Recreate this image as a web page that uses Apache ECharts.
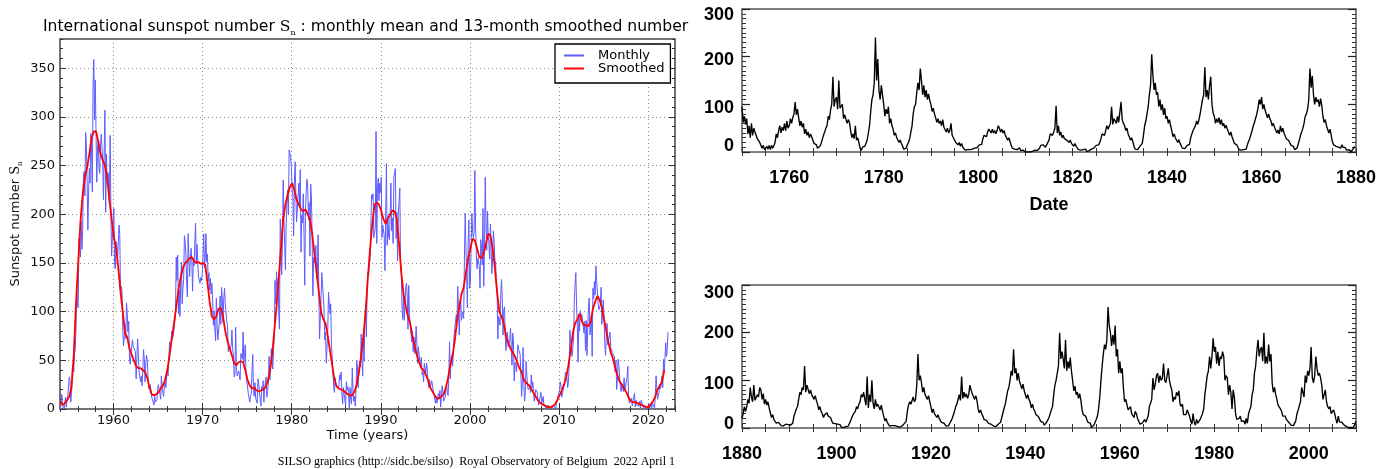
<!DOCTYPE html>
<html>
<head>
<meta charset="utf-8">
<title>International sunspot number</title>
<script src="https://cdn.jsdelivr.net/npm/echarts@6/dist/echarts.min.js"></script>
<style>
  html, body { margin: 0; padding: 0; background: #fff; }
  #chart { width: 1378px; height: 469px; }
</style>
</head>
<body>
<div id="chart"></div>
<script>
// Monthly mean total sunspot number, January 1954 to March 2022 (one row per year)
const monthlyStart = 1954;
const monthlyValues = [
  0,1,15,3,1,0,7,12,2,10,13,11,
  33,29,7,16,41,45,38,57,60,82,126,108,
  104,175,167,156,193,164,182,239,244,219,284,271,
  233,184,222,247,232,283,264,223,332,359,297,338,
  284,233,269,276,247,242,270,282,284,256,215,265,
  307,202,262,230,243,238,211,281,205,157,175,176,
  206,149,144,172,169,155,172,189,179,117,126,121,
  82,65,75,87,72,109,99,79,90,53,46,56,
  55,71,64,65,62,59,31,31,72,56,38,33,
  28,34,24,41,61,51,28,47,55,50,33,21,
  22,25,23,12,13,13,4,13,7,9,10,21,
  25,20,16,10,34,22,17,13,24,28,22,24,
  40,34,36,69,64,67,80,72,71,81,81,99,
  156,132,158,98,122,95,129,151,108,124,133,178,
  172,158,130,115,180,156,136,154,165,152,121,155,
  147,170,191,151,169,149,136,138,129,135,132,138,
  157,180,145,154,180,151,159,131,140,122,134,118,
  129,111,86,101,81,70,114,87,71,73,89,116,
  87,125,113,89,114,124,108,108,90,86,59,64,
  61,60,65,81,60,56,33,36,84,43,34,33,
  39,37,30,57,56,51,79,47,57,66,35,29,
  27,16,16,7,13,16,40,56,20,13,27,11,
  11,6,31,27,17,17,3,23,19,29,7,22,
  23,33,12,18,26,54,30,42,62,62,41,61,
  73,132,108,141,117,134,99,82,195,176,138,173,
  235,194,195,143,190,211,225,200,266,263,258,249,
  225,219,178,231,254,222,192,191,219,232,209,246,
  161,199,191,221,180,127,203,224,236,229,194,212,
  157,231,217,172,116,156,150,152,168,134,138,179,
  119,72,94,114,140,128,116,101,71,79,47,47,
  80,120,118,98,108,65,53,36,22,17,32,26,
  23,22,24,23,35,30,38,16,5,22,20,21,
  3,28,19,23,17,1,22,9,5,42,19,8,
  13,3,19,50,42,22,42,49,43,77,50,34,
  73,49,94,108,74,125,140,137,148,154,154,220,
  216,221,176,175,186,285,170,226,237,214,232,222,
  238,176,189,189,178,142,201,252,168,196,177,174,
  200,232,183,196,170,238,243,247,175,202,152,202,
  212,227,150,141,104,92,121,91,90,125,129,116,
  82,127,97,86,85,69,80,59,74,57,67,85,
  87,47,64,56,55,43,53,35,38,28,47,47,
  37,47,40,28,22,30,22,23,29,27,19,15,
  16,6,12,6,7,16,11,19,2,1,24,18,
  8,10,12,21,25,17,14,33,69,31,52,55,
  44,55,75,73,77,97,91,126,127,76,101,112,
  91,97,100,93,155,201,166,137,104,170,194,124,
  131,164,201,182,176,181,245,189,159,144,155,151,
  147,124,174,165,148,206,126,163,238,193,163,203,
  179,169,154,190,190,139,156,183,172,153,150,127,
  124,72,95,94,86,121,133,113,76,102,105,73,
  60,75,79,64,67,70,83,66,45,78,70,29,
  48,45,38,38,66,61,61,56,34,13,28,63,
  25,8,17,49,36,23,20,21,23,17,35,22,
  28,18,8,6,20,20,17,10,4,2,3,17,
  5,3,13,4,5,5,1,0,2,4,6,1,
  2,2,1,1,4,4,5,0,6,7,6,16,
  20,28,23,12,13,20,24,29,38,35,32,22,
  28,43,81,79,60,54,64,73,113,128,140,106,
  85,48,94,80,101,94,97,92,90,78,90,60,
  91,55,84,105,114,76,83,96,54,124,113,131,
  117,147,132,121,108,102,104,107,125,87,100,112,
  93,67,55,75,88,66,66,65,79,63,62,58,
  57,57,54,38,50,20,32,51,44,33,22,18,
  26,27,18,32,19,19,18,33,44,13,6,8,
  7,11,3,9,13,16,2,9,4,5,6,3,
  8,1,9,9,10,1,1,1,1,0,1,2,
  6,0,2,5,0,6,6,8,1,14,34,22,
  10,8,17,25,21,25,34,22,51,37,35,68,
  54,60,79
];

// 13-month smoothed number, sampled every three months from January 1954 (one row per year)
const smoothedValues = [
  8,4,6,9,  13,22,55,108,  150,192,220,238,  248,262,278,285,
  285,275,262,256,  250,238,215,195,  177,165,145,120,  100,78,74,62,
  56,50,44,42,  42,40,38,32,  22,15,14,15,  17,21,24,30,
  40,55,72,88,  105,122,135,145,  150,152,155,156,  152,150,151,149,
  150,148,130,110,  95,92,95,103,  104,95,80,70,  62,55,47,45,
  48,49,48,40,  30,24,21,22,  19,18,19,20,  22,28,38,55,
  80,105,135,165,  195,210,220,228,  232,225,215,210,  205,203,205,200,
  195,180,160,140,  120,100,92,88,  75,60,45,30,  23,21,20,19,
  17,15,14,14,  18,25,38,55,  75,100,135,165,  190,210,212,210,
  203,195,190,196,  200,204,203,195,  170,140,118,105,  95,88,75,65,
  55,48,42,40,  35,30,22,18,  14,11,11,13,  15,22,32,45,
  55,70,90,105,  118,125,140,155,  165,175,173,165,  156,155,160,170,
  180,178,165,145,  120,100,95,88,  75,68,62,58,  54,48,42,38,
  30,27,25,22,  18,14,10,7,  5,4,3,2,  2,3,5,9,
  14,19,25,32,  45,60,78,88,  92,98,90,86,  86,85,90,103,
  110,116,112,105,  92,80,68,58,  52,42,35,28,  25,21,17,12,
  8,7,7,6,  5,4,3,2,  2,5,8,13,  20,24,28,40
];

// Historic record 1750-1879, four samples per year
const earlyStart = 1750;
const earlyValues = [
  95,62,75,58, 70,38,55,30, 60,35,50,42, 40,28,32,20, 18,8,14,5,
  2,12,6,14, 5,14,8,13, 20,38,30,45, 55,40,52,45, 60,45,65,50,
  55,70,60,72, 80,105,78,90, 72,55,65,52, 60,38,48,35, 42,30,38,32,
  28,18,22,15, 8,5,12,18, 22,35,42,50, 55,75,68,88, 100,158,95,110,
  115,90,150,92, 95,100,70,78, 75,60,68,62, 45,30,38,28, 55,25,30,20,
  8,3,10,6, 12,18,25,22, 55,85,110,120, 145,240,150,195, 130,110,140,120,
  100,75,90,80, 95,60,70,55, 48,35,40,30, 28,20,25,18, 12,6,10,8,
  15,20,28,32, 55,80,95,100, 125,145,130,175, 150,120,140,115, 130,110,122,108,
  100,85,92,80, 72,62,70,60, 65,55,68,52, 52,42,50,40, 45,60,35,30,
  28,20,22,15, 20,12,18,10, 8,4,7,5, 2,5,3,6, 4,8,6,9,
  10,15,18,16, 28,35,38,32, 42,48,45,40, 48,40,45,38, 45,55,50,42,
  48,40,45,35, 32,25,30,22, 14,8,12,6, 10,5,8,9, 3,1,4,2,
  0,0,0,0, 0,2,1,3, 4,7,3,6, 8,14,12,15, 18,10,15,12,
  25,38,40,35, 42,50,97,40, 55,35,42,30, 35,28,32,25, 28,20,25,18,
  20,12,18,12, 8,5,9,4, 3,5,2,6, 1,0,3,2, 6,10,8,9,
  14,18,15,20, 28,38,40,35, 45,55,48,52, 60,95,58,70, 72,60,75,62,
  65,105,68,60, 55,45,50,38, 32,25,30,22, 12,6,8,5, 8,12,15,18,
  35,55,65,80, 95,120,140,205, 160,130,145,120, 125,95,110,88, 100,78,92,70,
  75,60,68,55, 45,32,38,30, 28,20,26,18, 14,8,12,7, 10,14,18,16,
  30,38,45,48, 55,65,58,68, 80,95,110,120, 178,115,130,110, 140,158,100,82,
  75,60,70,62, 72,58,68,55, 60,50,56,48, 45,35,42,32, 25,18,22,15,
  10,5,8,4, 2,5,3,6, 15,22,28,30, 45,55,62,58, 80,92,110,100,
  115,90,100,88, 85,72,80,70, 65,55,60,52, 50,40,46,38, 55,42,50,40,
  36,28,32,24, 20,14,18,12, 5,3,8,10, 25,35,42,50, 60,75,80,90,
  110,175,135,160, 120,100,115,105, 110,95,112,98, 75,62,68,55, 52,40,48,35,
  22,15,18,12, 14,10,12,8, 15,10,14,9, 4,2,5,1, 1,5,8,12
];

// Historic record 1880-2010, four samples per year
const lateStart = 1880;
const lateValues = [
  20,30,45,35, 45,60,52,85, 65,55,90,58, 58,70,65,85, 80,60,72,50,
  60,48,55,42, 32,22,28,18, 15,10,14,12, 8,5,9,4, 3,8,5,7,
  4,6,9,10, 25,32,40,45, 60,75,70,85, 80,130,75,90, 90,72,80,70,
  70,60,68,58, 50,38,45,35, 30,22,28,24, 32,25,28,22, 15,10,12,9,
  12,8,10,7, 2,4,1,3, 3,6,4,8, 15,22,28,32, 35,45,40,50,
  55,70,65,75, 60,48,108,42, 70,55,100,52, 40,60,45,50, 50,38,48,35,
  25,15,20,12, 8,4,6,5, 2,5,3,4, 1,2,0,3, 5,8,12,14,
  35,48,55,50, 50,65,55,60, 90,155,100,110, 95,75,85,70, 72,60,68,55,
  45,32,40,30, 30,22,28,20, 18,12,15,10, 8,4,6,5, 10,15,20,22,
  35,45,50,60, 70,58,108,62, 75,65,72,62, 70,90,80,72, 72,60,68,58,
  40,32,38,30, 25,18,22,16, 14,9,12,8, 8,4,6,3, 5,8,10,12,
  22,32,42,50, 65,78,85,100, 120,110,165,115, 125,100,115,98, 100,82,92,78,
  75,62,70,60, 55,42,50,40, 35,28,32,24, 20,14,18,12, 6,8,12,14,
  22,30,38,45, 70,90,100,115, 130,200,145,160, 145,125,185,120, 140,125,148,120,
  100,78,88,70, 75,62,72,58, 38,28,32,25, 18,12,15,10, 1,4,6,5,
  18,25,40,65, 100,130,155,175, 165,185,254,215, 200,172,195,175, 215,150,165,115,
  140,115,125,85, 55,60,58,38, 40,45,30,28, 22,35,30,20, 14,8,6,10,
  14,18,12,16, 25,45,52,60, 105,80,92,110, 115,95,110,100, 105,135,100,95,
  110,125,100,88, 80,55,65,60, 75,68,78,50, 45,50,28,30, 28,38,42,25,
  15,8,30,12, 6,18,10,14, 18,22,30,40, 70,90,110,120, 150,125,150,188,
  160,170,135,160, 130,150,145,160, 150,100,110,105, 70,90,75,40, 80,65,30,18,
  16,20,25,14, 12,15,8,20, 10,30,38,45, 70,80,115,130, 160,185,150,165,
  170,140,200,135, 150,135,175,140, 155,95,75,85, 70,60,48,52, 40,35,25,28,
  25,18,16,12, 8,6,10,5, 8,15,30,38, 40,55,85,75, 65,110,95,120,
  110,125,170,105, 95,110,150,125, 110,115,105,90, 60,60,80,55, 45,40,45,30,
  30,38,30,18, 10,25,13,15, 12,8,6,3, 3,3,1,3, 1,2,2,8,
  14
];

// Tick labels
const leftYearTicks = [1960, 1970, 1980, 1990, 2000, 2010, 2020];
const leftValueTicks = [0, 50, 100, 150, 200, 250, 300, 350];
const topYearTicks = [1760, 1780, 1800, 1820, 1840, 1860, 1880];
const bottomYearTicks = [1880, 1900, 1920, 1940, 1960, 1980, 2000];
const recordValueTicks = [0, 100, 200, 300];

// ---- series tables built from the arrays above ----
const monthlyData = monthlyValues.map((v, i) => [monthlyStart + (i + 0.5) / 12, v]);
const smoothedData = smoothedValues.map((v, i) => [monthlyStart + (3 * i + 0.5) / 12, v]);
const earlyData = earlyValues.map((v, i) => [earlyStart + i / 4, v]);
const lateData = lateValues.map((v, i) => [lateStart + i / 4, v]);

// ---- styles ----
const plain = v => String(v);
const plotFont = { fontFamily: "'DejaVu Sans', sans-serif", fontSize: 13, fontWeight: 'normal', color: '#111' };
const recordFont = {
  fontFamily: "'Liberation Sans Narrow', 'Liberation Sans', Arial, sans-serif",
  fontWeight: 'bold', fontSize: 18, color: '#000'
};
const tickColor = '#333';
const gridDots = { show: true, lineStyle: { color: '#858585', width: 1, type: [1, 3] } };
const subRich = {
  a: { fontFamily: "'DejaVu Sans', sans-serif", fontSize: 15.6, fontWeight: 'normal', color: '#000', lineHeight: 20 },
  s: { fontFamily: "'DejaVu Serif', serif", fontSize: 15.6, fontWeight: 'normal', color: '#000', lineHeight: 20 },
  n: { fontFamily: "'DejaVu Serif', serif", fontSize: 8, fontWeight: 'normal', color: '#000', lineHeight: 8, verticalAlign: 'bottom' }
};
const nameRich = {
  a: { fontFamily: "'DejaVu Sans', sans-serif", fontSize: 13, fontWeight: 'normal', color: '#111', lineHeight: 17 },
  s: { fontFamily: "'DejaVu Serif', serif", fontSize: 13, fontWeight: 'normal', color: '#111', lineHeight: 17 },
  n: { fontFamily: "'DejaVu Serif', serif", fontSize: 7, fontWeight: 'normal', color: '#111', lineHeight: 7, verticalAlign: 'bottom' }
};

function tickOnlyAxis(gridIndex, position, min, max, interval, length) {
  return {
    type: 'value', gridIndex, position, min, max, interval,
    axisLine: { show: false },
    axisTick: { show: true, inside: true, length, lineStyle: { color: tickColor, width: 1 } },
    axisLabel: { show: false },
    splitLine: { show: false },
    minorSplitLine: { show: false }
  };
}

// value labels of the record panels sit slightly off their ticks
function recordLabels(shift) {
  const rich = {};
  recordValueTicks.forEach(v => {
    const d = shift[v] || 0;
    rich['v' + v] = Object.assign({}, recordFont, {
      padding: d >= 0 ? [2 * d, 0, 0, 0] : [0, 0, -2 * d, 0]
    });
  });
  return Object.assign({}, recordFont, {
    show: true, margin: 8, customValues: recordValueTicks,
    formatter: v => '{v' + v + '|' + v + '}', rich
  });
}

function recordYAxis(gridIndex, position, labels) {
  return {
    type: 'value', gridIndex, position, min: 0, max: 300, interval: 100,
    axisLine: { show: false },
    axisTick: { show: true, inside: true, length: 8, lineStyle: { color: '#222', width: 1.2 } },
    minorTick: { show: true, splitNumber: 10, length: 4, lineStyle: { color: '#333', width: 1 } },
    axisLabel: labels ? labels : { show: false },
    splitLine: { show: false }
  };
}

function recordXAxis(gridIndex, position, min, max, ticks, name) {
  const axis = tickOnlyAxis(gridIndex, position, min, max, 5, 4);
  if (ticks) {
    axis.axisLabel = Object.assign({}, recordFont, { show: true, margin: 17, customValues: ticks, formatter: plain });
  }
  if (name) {
    axis.name = name;
    axis.nameLocation = 'middle';
    axis.nameGap = 44;
    axis.nameMoveOverlap = false;
    axis.nameTextStyle = Object.assign({}, recordFont, { fontSize: 18 });
  }
  return axis;
}

const option = {
  animation: false,
  backgroundColor: '#fff',
  title: [
    {
      text: '{a|International sunspot number }{s|S}{n|n}{a| : monthly mean and 13-month smoothed number}',
      left: 43, top: 17, padding: 0,
      textStyle: { fontWeight: 'normal', rich: subRich }
    },
    {
      text: 'SILSO graphics (http://sidc.be/silso)  Royal Observatory of Belgium  2022 April 1',
      right: 703, top: 456, padding: 0,
      textStyle: { fontFamily: "'Liberation Serif', 'DejaVu Serif', serif", fontSize: 12, fontWeight: 'normal', color: '#000' }
    }
  ],
  legend: {
    data: ['Monthly', 'Smoothed'],
    orient: 'vertical', left: 555, top: 44,
    icon: 'rect', itemWidth: 20, itemHeight: 2, itemGap: 0,
    padding: [5, 6, 8, 9],
    borderColor: '#000', borderWidth: 1.3, borderRadius: 0,
    backgroundColor: '#fff',
    textStyle: { fontFamily: "'DejaVu Sans', sans-serif", fontSize: 13, color: '#000', lineHeight: 12.8, padding: [0, 0, 0, 9] }
  },
  grid: [
    { left: 60, top: 39, width: 615, height: 370, show: true, borderColor: '#444', borderWidth: 1.5, outerBoundsMode: 'none' },
    { left: 742, top: 9, width: 614, height: 143, show: true, borderColor: '#555', borderWidth: 1.5, outerBoundsMode: 'none' },
    { left: 742, top: 285, width: 614, height: 143, show: true, borderColor: '#555', borderWidth: 1.5, outerBoundsMode: 'none' }
  ],
  xAxis: [
    {
      type: 'value', gridIndex: 0, position: 'bottom', min: 1954, max: 2023,
      minInterval: 10, maxInterval: 10,
      axisLine: { show: false },
      axisTick: { show: true, inside: true, length: 6, customValues: leftYearTicks, lineStyle: { color: tickColor } },
      axisLabel: Object.assign({}, plotFont, { margin: 5, customValues: leftYearTicks, formatter: plain }),
      splitLine: gridDots,
      minorSplitLine: { show: false },
      name: 'Time (years)', nameLocation: 'middle', nameGap: 20, nameMoveOverlap: false,
      nameTextStyle: plotFont
    },
    tickOnlyAxis(0, 'bottom', 1954, 2023, 2, 3),
    {
      type: 'value', gridIndex: 0, position: 'top', min: 1954, max: 2023,
      minInterval: 10, maxInterval: 10,
      axisLine: { show: false },
      axisTick: { show: true, inside: true, length: 6, customValues: leftYearTicks, lineStyle: { color: tickColor } },
      axisLabel: { show: false },
      splitLine: { show: false }
    },
    tickOnlyAxis(0, 'top', 1954, 2023, 2, 3),
    recordXAxis(1, 'bottom', 1750, 1880, topYearTicks, 'Date'),
    recordXAxis(1, 'top', 1750, 1880, null, null),
    recordXAxis(2, 'bottom', 1880, 2010, bottomYearTicks, null),
    recordXAxis(2, 'top', 1880, 2010, null, null)
  ],
  yAxis: [
    {
      type: 'value', gridIndex: 0, position: 'left', min: 0, max: 380, interval: 50,
      axisLine: { show: false },
      axisTick: { show: true, inside: true, length: 6, customValues: leftValueTicks, lineStyle: { color: tickColor } },
      axisLabel: Object.assign({}, plotFont, { margin: 5, customValues: leftValueTicks, formatter: plain }),
      splitLine: gridDots,
      name: '{a|Sunspot number }{s|S}{n|n}', nameLocation: 'middle', nameGap: 36, nameRotate: 90,
      nameMoveOverlap: false,
      nameTextStyle: { rich: nameRich }
    },
    tickOnlyAxis(0, 'left', 0, 380, 10, 3),
    {
      type: 'value', gridIndex: 0, position: 'right', min: 0, max: 380, interval: 50,
      axisLine: { show: false },
      axisTick: { show: true, inside: true, length: 6, customValues: leftValueTicks, lineStyle: { color: tickColor } },
      axisLabel: { show: false },
      splitLine: { show: false }
    },
    tickOnlyAxis(0, 'right', 0, 380, 10, 3),
    recordYAxis(1, 'left', recordLabels({ 0: -6, 100: 4, 200: 3, 300: 6 })),
    recordYAxis(1, 'right', null),
    recordYAxis(2, 'left', recordLabels({ 0: -4, 100: 4, 200: 0, 300: 8 })),
    recordYAxis(2, 'right', null)
  ],
  series: [
    {
      name: 'Monthly', type: 'line', xAxisIndex: 0, yAxisIndex: 0,
      data: monthlyData, showSymbol: false, symbol: 'none', color: '#5c5cff',
      lineStyle: { color: '#5c5cff', width: 1 }, z: 2
    },
    {
      name: 'Smoothed', type: 'line', xAxisIndex: 0, yAxisIndex: 0,
      data: smoothedData, showSymbol: false, symbol: 'none', color: '#ff0000',
      lineStyle: { color: '#ff0000', width: 1.8 }, z: 3
    },
    {
      name: 'Record 1750-1880', type: 'line', xAxisIndex: 4, yAxisIndex: 4,
      data: earlyData, showSymbol: false, symbol: 'none', color: '#000',
      lineStyle: { color: '#000', width: 1.35 }
    },
    {
      name: 'Record 1880-2010', type: 'line', xAxisIndex: 6, yAxisIndex: 6,
      data: lateData, showSymbol: false, symbol: 'none', color: '#000',
      lineStyle: { color: '#000', width: 1.35 }
    }
  ]
};

const chart = echarts.init(document.getElementById('chart'), null, { renderer: 'canvas' });
chart.setOption(option);
</script>
</body>
</html>
